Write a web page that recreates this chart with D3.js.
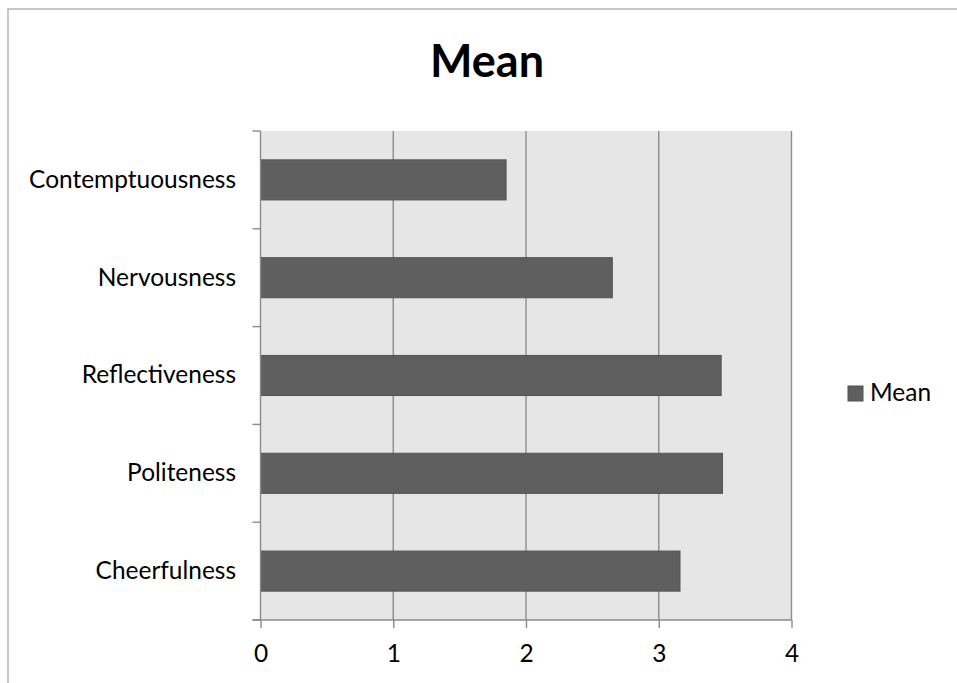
<!DOCTYPE html>
<html>
<head>
<meta charset="utf-8">
<script src="https://cdn.jsdelivr.net/npm/d3@7"></script>
<style>
  body { margin: 0; background: #ffffff; }
  svg { display: block; }
</style>
</head>
<body>
<svg id="chart" width="957" height="683"></svg>
<script>
// ---- data ----
const categories = ["Contemptuousness", "Nervousness", "Reflectiveness", "Politeness", "Cheerfulness"];
const meanValues = [1.85, 2.65, 3.47, 3.48, 3.16];
const xTickValues = [0, 1, 2, 3, 4];
const seriesName = "Mean";
const chartTitle = "Mean";

// ---- layout ----
const W = 957, H = 683;
const plot = { left: 260.5, right: 791.5, top: 131, bottom: 620 };
const FONT = "Lato, 'Open Sans', 'Noto Sans', sans-serif";
const BAR_FILL = "#5f5f5f", BAR_STROKE = "#535353";
const PLOT_BG = "#e6e6e6", GRID = "#8c8c8c", AXIS = "#8a8a8a";

const svg = d3.select("#chart");

// Pick a font size so that a given string spans a target width.
function fitSize(text, weight, targetWidth) {
  const probe = svg.append("text")
    .attr("font-family", FONT).attr("font-weight", weight)
    .attr("font-size", 100).text(text);
  const w = probe.node().getComputedTextLength();
  probe.remove();
  return 100 * targetWidth / w;
}
const labelSize = fitSize("Contemptuousness", 400, 207);
const titleSize = fitSize(chartTitle, 700, 114);

// outer chart border (continues past the right and bottom edges)
svg.append("rect")
  .attr("x", 8).attr("y", 9)
  .attr("width", W + 20).attr("height", H + 20)
  .attr("fill", "#ffffff")
  .attr("stroke", "#b5b5b5").attr("stroke-width", 1.5);

// title
svg.append("text")
  .attr("x", 487).attr("y", 77)
  .attr("text-anchor", "middle")
  .attr("font-family", FONT).attr("font-weight", 700)
  .attr("font-size", titleSize)
  .attr("fill", "#000")
  .text(chartTitle);

// scales
const x = d3.scaleLinear().domain([0, 4]).range([plot.left, plot.right]);
const y = d3.scaleBand().domain(categories)
  .range([plot.top, plot.bottom])
  .paddingInner(0.59).paddingOuter(0.295);

// plot background
svg.append("rect")
  .attr("x", plot.left).attr("y", plot.top)
  .attr("width", plot.right - plot.left).attr("height", plot.bottom - plot.top)
  .attr("fill", PLOT_BG);

// vertical gridlines
svg.append("g").selectAll("line")
  .data(xTickValues.filter(d => d > 0))
  .join("line")
  .attr("x1", d => x(d)).attr("x2", d => x(d))
  .attr("y1", plot.top).attr("y2", plot.bottom)
  .attr("stroke", GRID).attr("stroke-width", 1.4);

// bars
svg.append("g").selectAll("rect")
  .data(categories.map((c, i) => ({ c, v: meanValues[i] })))
  .join("rect")
  .attr("x", x(0))
  .attr("y", d => y(d.c))
  .attr("width", d => x(d.v) - x(0))
  .attr("height", y.bandwidth())
  .attr("fill", BAR_FILL)
  .attr("stroke", BAR_STROKE).attr("stroke-width", 1);

// x axis
const xAxis = d3.axisBottom(x).tickValues(xTickValues).tickSize(8).tickPadding(17)
  .tickFormat(d3.format("d"));
const gx = svg.append("g").attr("transform", `translate(0,${plot.bottom})`).call(xAxis);
gx.select(".domain").attr("d", `M${plot.left - 8},0H${plot.right}`)
  .attr("stroke", AXIS).attr("stroke-width", 1.4);
gx.selectAll(".tick line").attr("stroke", AXIS).attr("stroke-width", 1.4);
gx.selectAll(".tick text")
  .attr("font-family", FONT).attr("font-size", labelSize).attr("fill", "#000");

// y axis: category labels, ticks on band boundaries
const ya = d3.axisLeft(y).tickSize(0).tickPadding(24.5);
const gy = svg.append("g").attr("transform", `translate(${plot.left},0)`).call(ya);
gy.select(".domain").attr("d", `M0,${plot.top}V${plot.bottom}`)
  .attr("stroke", AXIS).attr("stroke-width", 1.4);
gy.selectAll(".tick text")
  .attr("font-family", FONT).attr("font-size", labelSize).attr("fill", "#000");
const step = y.step();
const boundaries = d3.range(categories.length + 1).map(i => plot.top + i * step);
gy.append("g").selectAll("line")
  .data(boundaries)
  .join("line")
  .attr("x1", -8).attr("x2", 0)
  .attr("y1", d => d).attr("y2", d => d)
  .attr("stroke", AXIS).attr("stroke-width", 1.4);

// legend
const lg = svg.append("g").attr("transform", "translate(848,386)");
lg.append("rect").attr("width", 15).attr("height", 15)
  .attr("fill", BAR_FILL).attr("stroke", BAR_STROKE).attr("stroke-width", 1);
lg.append("text").attr("x", 22).attr("y", 15)
  .attr("font-family", FONT).attr("font-size", labelSize).attr("fill", "#000")
  .text(seriesName);
</script>
</body>
</html>
